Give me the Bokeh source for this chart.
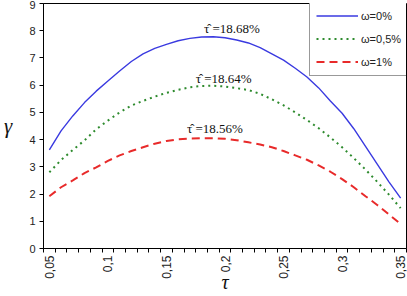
from bokeh.plotting import figure
from bokeh.models import FixedTicker, Label, Legend, LegendItem, ColumnDataSource
from bokeh.embed import file_html
from bokeh.resources import INLINE
import math

tau = [0.05, 0.06, 0.07, 0.08, 0.09, 0.10, 0.11, 0.12, 0.13, 0.14, 0.15,
       0.16, 0.17, 0.18, 0.19, 0.20, 0.21, 0.22, 0.23, 0.24, 0.25,
       0.26, 0.27, 0.28, 0.29, 0.30, 0.31, 0.32, 0.33, 0.34, 0.35]

gamma_w0 = [3.62, 4.32, 4.87, 5.36, 5.78, 6.15, 6.52, 6.87, 7.15, 7.35, 7.50,
            7.63, 7.72, 7.77, 7.78, 7.74, 7.66, 7.55, 7.38, 7.15, 6.92,
            6.62, 6.30, 5.90, 5.42, 4.97, 4.40, 3.75, 3.10, 2.45, 1.85]

gamma_w05 = [2.80, 3.25, 3.62, 3.97, 4.38, 4.70, 5.00, 5.25, 5.42, 5.58, 5.72,
             5.83, 5.92, 5.97, 5.98, 5.95, 5.89, 5.82, 5.68, 5.48, 5.26,
             5.00, 4.72, 4.42, 4.08, 3.72, 3.32, 2.90, 2.45, 1.98, 1.48]

gamma_w1 = [1.92, 2.25, 2.50, 2.77, 2.98, 3.22, 3.42, 3.58, 3.72, 3.85, 3.95,
            4.01, 4.04, 4.05, 4.05, 4.03, 3.98, 3.90, 3.82, 3.72, 3.58,
            3.42, 3.26, 3.05, 2.82, 2.55, 2.25, 1.92, 1.60, 1.25, 0.90]

series_names = ["\u03c9=0%", "\u03c9=0,5%", "\u03c9=1%"]

x_tick_values = [0.05, 0.10, 0.15, 0.20, 0.25, 0.30, 0.35]
x_tick_labels = ["0,05", "0,1", "0,15", "0,2", "0,25", "0,3", "0,35"]
y_tick_values = [0, 1, 2, 3, 4, 5, 6, 7, 8, 9]

optimum_labels = ["18.68%", "18.64%", "18.56%"]

SANS = "Liberation Sans"
SERIF = "Liberation Serif"

# category boundaries (tick marks sit between categories)
half_step = 0.005
boundaries = [t - half_step for t in tau] + [tau[-1] + half_step]

p = figure(width=407, height=296, output_backend="svg", toolbar_location=None,
           x_range=(tau[0] - half_step, tau[-1] + half_step), y_range=(0, 9),
           min_border_left=43, min_border_right=1, min_border_top=3, min_border_bottom=48)

p.background_fill_color = "white"
p.border_fill_color = "white"
p.outline_line_color = "black"
p.outline_line_width = 1
p.xgrid.visible = False
p.ygrid.visible = False

xa = p.xaxis[0]
xa.ticker = FixedTicker(ticks=x_tick_values, minor_ticks=boundaries)
xa.major_label_overrides = {v: l for v, l in zip(x_tick_values, x_tick_labels)}
xa.major_label_orientation = math.pi / 2
xa.major_tick_line_color = None
xa.major_tick_out = 4
xa.major_tick_in = 0
xa.minor_tick_out = 4
xa.minor_tick_in = 0
xa.minor_tick_line_color = "black"
xa.major_label_standoff = 3
xa.major_label_text_font = SANS
xa.major_label_text_font_size = "12px"
xa.major_label_text_color = "#222222"
xa.axis_line_color = "black"
xa.axis_label = "\u03c4"
xa.axis_label_text_font = SERIF
xa.axis_label_text_font_style = "italic"
xa.axis_label_text_font_size = "20px"
xa.axis_label_text_color = "#111111"
xa.axis_label_standoff = -11

ya = p.yaxis[0]
ya.ticker = FixedTicker(ticks=y_tick_values)
ya.major_tick_out = 4
ya.major_tick_in = 0
ya.minor_tick_line_color = None
ya.major_label_standoff = 4
ya.major_label_text_font = SANS
ya.major_label_text_font_size = "11px"
ya.major_label_text_color = "#222222"
ya.axis_line_color = "black"
ya.axis_label = "\u03b3"
ya.axis_label_orientation = "horizontal"
ya.axis_label_text_font = SERIF
ya.axis_label_text_font_style = "italic"
ya.axis_label_text_font_size = "21px"
ya.axis_label_text_color = "#111111"
ya.axis_label_standoff = 14

colors = ["#3a3ae0", "#2e8b2e", "#e82a2a"]
dashes = ["solid", "2 4", "8 5"]
widths = [1.4, 2.0, 2.0]
all_series = [gamma_w0, gamma_w05, gamma_w1]

items = []
for name, ys, c, d, w in zip(series_names, all_series, colors, dashes, widths):
    src = ColumnDataSource(dict(x=tau, y=ys))
    r = p.line("x", "y", source=src, line_color=c, line_dash=d, line_width=w)
    items.append(LegendItem(label=name, renderers=[r]))

legend = Legend(items=items, location=(266, 172))
legend.border_line_color = "#333333"
legend.border_line_width = 1
legend.background_fill_color = "white"
legend.background_fill_alpha = 1
legend.label_text_font = SANS
legend.label_text_font_size = "11px"
legend.label_text_color = "#222222"
legend.glyph_width = 42
legend.glyph_height = 15
legend.label_height = 15
legend.label_standoff = 3
legend.spacing = 8
legend.padding = 6
legend.margin = 0
p.add_layout(legend, "center")

# optimum annotations near each curve's peak
ann_x = [0.182, 0.175, 0.1675]
ann_y = [8.07, 6.24, 4.40]
for ax_, ay_, txt in zip(ann_x, ann_y, optimum_labels):
    p.add_layout(Label(x=ax_, y=ay_, text="\u03c4\u0302 =" + txt,
                       text_font=SERIF, text_font_size="13px",
                       text_color="#111111", text_align="left", text_baseline="middle"))

open("out.html", "w").write(file_html(p, INLINE))
